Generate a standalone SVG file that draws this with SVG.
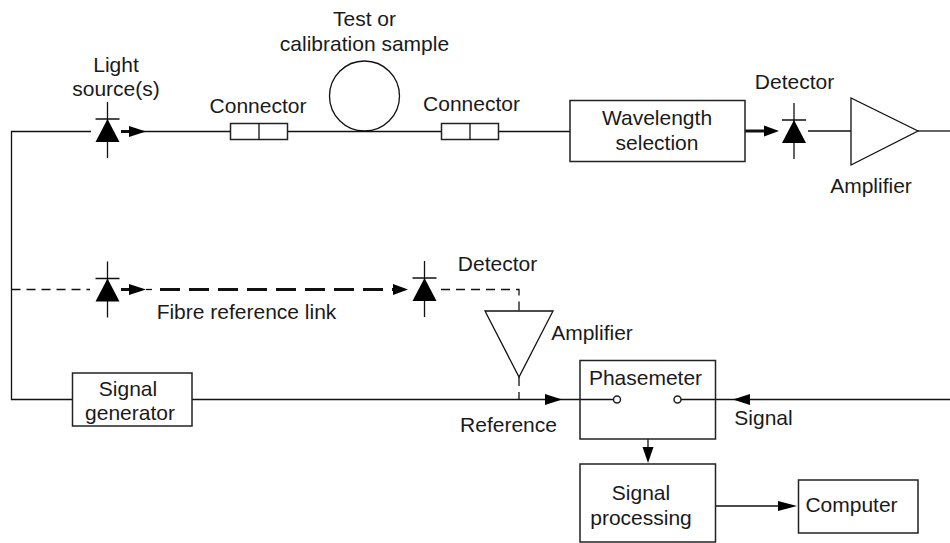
<svg xmlns="http://www.w3.org/2000/svg" width="950" height="543" viewBox="0 0 950 543">
<style>
text{font-family:"Liberation Sans",Arial,sans-serif;font-size:21px;fill:#1a1a1a}
.m{text-anchor:middle}
.l{fill:none;stroke:#111;stroke-width:1.3}
.b{fill:#fff;stroke:#222;stroke-width:1.5}
.t{fill:none;stroke:#111;stroke-width:3}
.d{fill:none;stroke:#111;stroke-width:1.3;stroke-dasharray:9 6}
.dt{fill:none;stroke:#111;stroke-width:3;stroke-dasharray:20 9}
.h{fill:#000;stroke:none}
</style>
<defs>
<g id="diode"><path class="l" d="M0-29V27M-12-12H12"/><path class="h" d="M0-12L12 11H-12Z"/></g>
</defs>
<g id="connectors">
<path class="l" d="M91 131.500H11.500V399.500H72"/>
<path class="l" d="M130 131.500H230"/>
<path class="t" d="M121 131.500H131"/><path class="h" d="M129 126L146 131.500L129 137Z"/>
<path class="l" d="M287.500 131.500H441.500"/>
<path class="l" d="M498.500 131.500H570"/>
<path class="t" d="M745 131H766"/><path class="h" d="M764 125.500L779 131L764 136.500Z"/>
<path class="l" d="M808 131H851"/>
<path class="l" d="M918 131H950"/>
<path class="d" d="M11.500 289.500H90"/>
<path class="t" d="M121 289.500H131"/><path class="h" d="M129 284L146 289.500L129 295Z"/>
<path class="dt" d="M160 289.500H393"/><path class="h" d="M393 284L408 289.500L393 295Z"/>
<path class="l" d="M146 289.500H152"/>
<path class="d" d="M441 289.500H519V311"/>
<path class="d" d="M519 377V399"/>
<path class="l" d="M192 399.500H614"/><path class="h" d="M545 394L562 399.500L545 405Z"/>
<path class="l" d="M681 399.500H950"/><path class="h" d="M750 394L733 399.500L750 405Z"/>
<path class="l" d="M648 439V450"/><path class="h" d="M642.500 447L653.500 447L648 463Z"/>
<path class="l" d="M715 506H785"/><path class="h" d="M778 501L797 506L778 511Z"/>
</g>
<g id="light-source"><use href="#diode" x="107.500" y="131"/><text class="m" x="116" y="72">Light</text><text class="m" x="116" y="96">source(s)</text></g>
<g id="connector-1"><rect class="b" x="230.500" y="123.500" width="57" height="16"/><path class="l" d="M259 123.500V139.500"/><text class="m" x="258" y="113">Connector</text></g>
<g id="sample"><circle class="l" cx="364.500" cy="96" r="35"/><text class="m" x="364.500" y="26">Test or</text><text class="m" x="364.500" y="51">calibration sample</text></g>
<g id="connector-2"><rect class="b" x="441.500" y="123.500" width="57" height="16"/><path class="l" d="M470 123.500V139.500"/><text class="m" x="471.500" y="111">Connector</text></g>
<g id="wavelength"><rect class="b" x="570" y="100.500" width="175" height="61"/><text class="m" x="657" y="125">Wavelength</text><text class="m" x="657" y="150">selection</text></g>
<g id="detector-1"><use href="#diode" x="794" y="132"/><text class="m" x="794.500" y="89">Detector</text></g>
<g id="amplifier-1"><path class="l" d="M851 98V165L918 131Z"/><text class="m" x="871" y="193">Amplifier</text></g>
<g id="reference-source"><use href="#diode" x="107.500" y="290.500"/></g>
<g id="fibre-link"><text class="m" x="246.500" y="319">Fibre reference link</text></g>
<g id="detector-2"><use href="#diode" x="424.500" y="290"/><text class="m" x="497.500" y="271">Detector</text></g>
<g id="amplifier-2"><path class="l" d="M485 311H553L519 377Z"/><text class="m" x="592" y="340">Amplifier</text></g>
<g id="signal-generator"><rect class="b" x="72.500" y="373" width="119.500" height="53"/><text class="m" x="128" y="396">Signal</text><text class="m" x="130" y="420">generator</text></g>
<g id="reference-label"><text class="m" x="508.500" y="432">Reference</text></g>
<g id="phasemeter"><rect class="b" x="580" y="360.500" width="135.500" height="78.500" style="fill:none"/><circle class="b" cx="617" cy="399.500" r="3.500"/><circle class="b" cx="677.500" cy="399.500" r="3.500"/><text class="m" x="645.500" y="385">Phasemeter</text></g>
<g id="signal-label"><text class="m" x="763.500" y="425">Signal</text></g>
<g id="signal-processing"><rect class="b" x="580" y="464" width="135.500" height="78" style="fill:none"/><text class="m" x="641" y="500">Signal</text><text class="m" x="641" y="525">processing</text></g>
<g id="computer"><rect class="b" x="798.500" y="480" width="119.500" height="53"/><text class="m" x="851.500" y="512">Computer</text></g>
</svg>
